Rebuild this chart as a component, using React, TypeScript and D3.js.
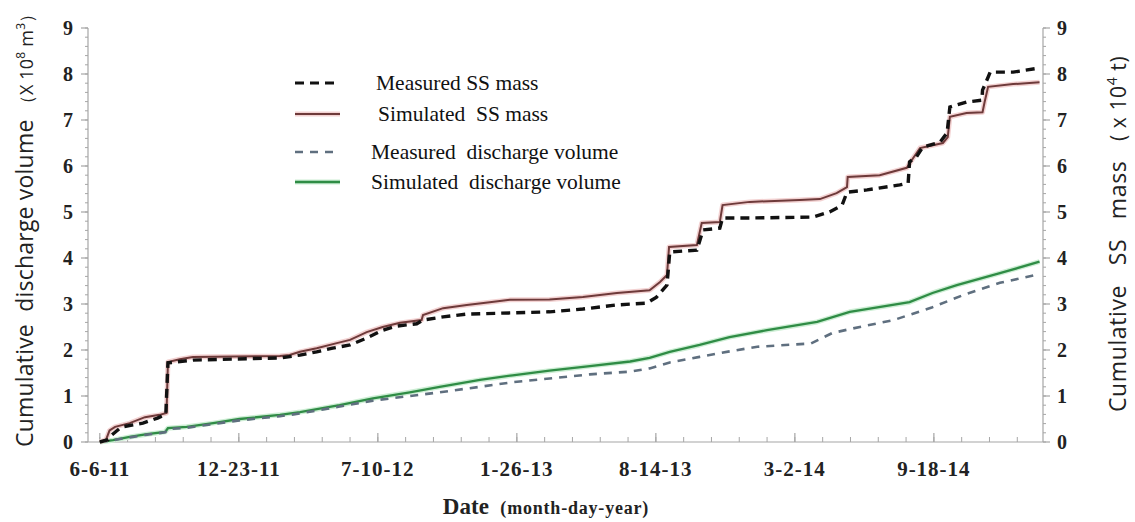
import React from 'react';
import * as d3 from 'd3';

// ---------- data ----------
const xTickDates = ['2011-06-06', '2011-12-23', '2012-07-10', '2013-01-26', '2013-08-14', '2014-03-02', '2014-09-18'];
const xTickLabels = ['6-6-11', '12-23-11', '7-10-12', '1-26-13', '8-14-13', '3-2-14', '9-18-14'];
const yTickValues = [0, 1, 2, 3, 4, 5, 6, 7, 8, 9];

const measuredSSMass: [string, number][] = [
  ['2011-06-06', 0], ['2011-06-18', 0.05], ['2011-06-23', 0.15], ['2011-07-05', 0.3], ['2011-07-09', 0.33],
  ['2011-08-07', 0.41], ['2011-08-28', 0.52], ['2011-09-09', 0.6], ['2011-09-12', 1.72], ['2011-10-18', 1.78],
  ['2012-02-23', 1.83], ['2012-03-20', 1.89], ['2012-04-13', 1.96], ['2012-05-06', 2.04], ['2012-05-31', 2.11],
  ['2012-06-24', 2.26], ['2012-07-17', 2.43], ['2012-08-06', 2.52], ['2012-09-04', 2.57], ['2012-09-13', 2.65],
  ['2012-10-12', 2.72], ['2012-11-15', 2.78], ['2013-01-02', 2.8], ['2013-03-14', 2.83], ['2013-05-01', 2.89],
  ['2013-06-19', 2.98], ['2013-08-01', 3.02], ['2013-08-15', 3.15], ['2013-08-30', 3.41], ['2013-09-03', 4.13],
  ['2013-10-12', 4.17], ['2013-10-21', 4.61], ['2013-11-14', 4.65], ['2013-11-18', 4.87], ['2013-12-27', 4.87],
  ['2014-03-28', 4.89], ['2014-04-21', 5.0], ['2014-05-09', 5.15], ['2014-05-16', 5.43], ['2014-06-14', 5.48],
  ['2014-07-31', 5.59], ['2014-08-12', 5.63], ['2014-08-14', 6.09], ['2014-08-24', 6.2], ['2014-09-02', 6.41],
  ['2014-09-27', 6.52], ['2014-10-07', 6.72], ['2014-10-11', 7.28], ['2014-11-04', 7.39], ['2014-11-26', 7.43],
  ['2014-11-27', 7.65], ['2014-12-05', 7.93], ['2014-12-08', 8.04], ['2015-01-10', 8.04], ['2015-02-17', 8.13],
];

const simulatedSSMass: [string, number][] = [
  ['2011-06-06', 0], ['2011-06-15', 0.05], ['2011-06-20', 0.25], ['2011-06-28', 0.33], ['2011-07-19', 0.41],
  ['2011-08-10', 0.54], ['2011-08-31', 0.59], ['2011-09-10', 0.63], ['2011-09-12', 1.74], ['2011-09-29', 1.8],
  ['2011-10-18', 1.85], ['2012-02-20', 1.87], ['2012-03-05', 1.89], ['2012-03-20', 1.96], ['2012-04-13', 2.04],
  ['2012-05-12', 2.15], ['2012-05-31', 2.22], ['2012-06-24', 2.39], ['2012-07-17', 2.5], ['2012-08-11', 2.59],
  ['2012-09-11', 2.65], ['2012-09-13', 2.76], ['2012-10-12', 2.91], ['2012-11-15', 2.98], ['2012-12-18', 3.04],
  ['2013-01-16', 3.09], ['2013-03-14', 3.1], ['2013-05-01', 3.15], ['2013-06-19', 3.24], ['2013-08-05', 3.3],
  ['2013-08-20', 3.48], ['2013-08-30', 3.63], ['2013-09-02', 4.24], ['2013-10-12', 4.28], ['2013-10-19', 4.76],
  ['2013-11-14', 4.78], ['2013-11-18', 5.15], ['2013-12-27', 5.22], ['2014-03-09', 5.26], ['2014-04-07', 5.28],
  ['2014-05-01', 5.41], ['2014-05-16', 5.54], ['2014-05-17', 5.76], ['2014-07-02', 5.8], ['2014-08-10', 5.96],
  ['2014-08-19', 6.17], ['2014-08-29', 6.39], ['2014-10-01', 6.5], ['2014-10-08', 6.63], ['2014-10-11', 7.07],
  ['2014-11-04', 7.15], ['2014-11-27', 7.17], ['2014-11-30', 7.39], ['2014-12-05', 7.72], ['2015-01-10', 7.78],
  ['2015-02-17', 7.82],
];

const measuredDischarge: [string, number][] = [
  ['2011-06-06', 0], ['2011-06-25', 0.04], ['2011-07-19', 0.1], ['2011-08-13', 0.16], ['2011-09-08', 0.21],
  ['2011-09-12', 0.28], ['2011-10-09', 0.31], ['2011-11-16', 0.39], ['2011-12-24', 0.47], ['2012-02-20', 0.56],
  ['2012-03-20', 0.62], ['2012-05-16', 0.77], ['2012-07-03', 0.9], ['2012-08-25', 1.0], ['2012-10-07', 1.08],
  ['2012-12-04', 1.2], ['2013-01-20', 1.3], ['2013-03-14', 1.38], ['2013-05-11', 1.47], ['2013-07-08', 1.53],
  ['2013-08-05', 1.6], ['2013-09-03', 1.73], ['2013-10-16', 1.85], ['2013-11-28', 1.97], ['2014-01-07', 2.07],
  ['2014-02-28', 2.12], ['2014-03-25', 2.14], ['2014-04-25', 2.37], ['2014-06-09', 2.52], ['2014-07-22', 2.65],
  ['2014-09-16', 2.93], ['2014-10-31', 3.2], ['2014-12-22', 3.46], ['2015-02-17', 3.65],
];

const simulatedDischarge: [string, number][] = [
  ['2011-06-06', 0], ['2011-06-25', 0.04], ['2011-07-19', 0.11], ['2011-08-13', 0.17], ['2011-09-08', 0.22],
  ['2011-09-12', 0.3], ['2011-10-09', 0.33], ['2011-11-16', 0.41], ['2011-12-24', 0.5], ['2012-02-20', 0.59],
  ['2012-03-20', 0.65], ['2012-05-16', 0.8], ['2012-07-03', 0.95], ['2012-08-25', 1.08], ['2012-10-07', 1.2],
  ['2012-12-04', 1.35], ['2013-01-20', 1.45], ['2013-03-14', 1.55], ['2013-05-11', 1.65], ['2013-07-08', 1.75],
  ['2013-08-05', 1.83], ['2013-09-03', 1.96], ['2013-10-16', 2.11], ['2013-11-28', 2.28], ['2014-01-21', 2.43],
  ['2014-04-03', 2.61], ['2014-05-20', 2.83], ['2014-08-14', 3.04], ['2014-09-16', 3.24], ['2014-10-21', 3.41],
  ['2014-12-22', 3.67], ['2015-02-17', 3.92],
];

const legendLabels = ['Measured SS mass', 'Simulated  SS mass', 'Measured  discharge volume', 'Simulated  discharge volume'];

// ---------- layout ----------
const W = 1135;
const H = 522;
const left = 88;
const right = 1043;
const top = 28;
const bottom = 442;

const parse = d3.utcParse('%Y-%m-%d');

export default function App() {
  const x = d3
    .scaleUtc()
    .domain([parse('2011-05-20')!, parse('2015-02-22')!])
    .range([left, right]);
  const y = d3.scaleLinear().domain([0, 9]).range([bottom, top]);

  const line = d3
    .line<[string, number]>()
    .x((d) => x(parse(d[0])!))
    .y((d) => y(d[1]));

  const start = parse(xTickDates[0])!;
  const minorX: Date[] = [];
  for (let k = 0; k <= 34; k++) {
    const dt = d3.utcDay.offset(start, k * 40);
    if (dt <= x.domain()[1]) minorX.push(dt);
  }
  const minorY: number[] = d3.range(0, 9.001, 0.2);

  const axisColor = '#a6a6a6';
  const serif = '"Liberation Serif", "Times New Roman", serif';
  const sans = '"Open Sans", "Noto Sans", sans-serif';

  const legendRows = [
    { y: 83, tx: 376, color: '#111', dash: '9,6', w: 3.2, halo: null as string | null },
    { y: 114, tx: 378, color: '#6e3a3a', dash: null as string | null, w: 2.2, halo: '#f3d2d2' },
    { y: 152, tx: 371, color: '#5f6f7f', dash: '8,7', w: 2.4, halo: null },
    { y: 182, tx: 371, color: '#2f8c45', dash: null, w: 2.4, halo: '#cdeed4' },
  ];

  const series = [
    { data: simulatedDischarge, color: '#2f8c45', w: 2.3, dash: null as string | null, halo: '#cdeed4' },
    { data: measuredDischarge, color: '#5f6f7f', w: 2.6, dash: '8,7', halo: null as string | null },
    { data: simulatedSSMass, color: '#6e3a3a', w: 2.0, dash: null, halo: '#f3d2d2' },
    { data: measuredSSMass, color: '#111', w: 3.4, dash: '9,6', halo: null },
  ];

  return (
    <svg width={W} height={H} style={{ display: 'block', position: 'absolute', left: 0, top: 0, background: '#fff' }}>
      <rect x={0} y={0} width={W} height={H} fill="#fff" />
      {/* axes */}
      <line x1={left} y1={top} x2={left} y2={bottom} stroke={axisColor} strokeWidth={1.2} />
      <line x1={right} y1={top} x2={right} y2={bottom} stroke={axisColor} strokeWidth={1.2} />
      <line x1={left} y1={bottom} x2={right} y2={bottom} stroke={axisColor} strokeWidth={1.2} />
      {minorY.map((v, i) => (
        <g key={'my' + i}>
          <line x1={left - 3} x2={left} y1={y(v)} y2={y(v)} stroke={axisColor} strokeWidth={1} />
          <line x1={right} x2={right + 3} y1={y(v)} y2={y(v)} stroke={axisColor} strokeWidth={1} />
        </g>
      ))}
      {yTickValues.map((v) => (
        <g key={'y' + v}>
          <line x1={left - 7} x2={left} y1={y(v)} y2={y(v)} stroke={axisColor} strokeWidth={1.2} />
          <line x1={right} x2={right + 7} y1={y(v)} y2={y(v)} stroke={axisColor} strokeWidth={1.2} />
          <text x={left - 20} y={y(v)} dy="0.35em" textAnchor="middle" fontFamily={serif} fontWeight="bold" fontSize={20} fill="#222">
            {v}
          </text>
          <text x={right + 19} y={y(v)} dy="0.35em" textAnchor="middle" fontFamily={serif} fontWeight="bold" fontSize={20} fill="#222">
            {v}
          </text>
        </g>
      ))}
      {minorX.map((d, i) => (
        <line key={'mx' + i} x1={x(d)} x2={x(d)} y1={bottom} y2={bottom - 5} stroke={axisColor} strokeWidth={1} />
      ))}
      {xTickDates.map((s, i) => (
        <g key={'x' + i}>
          <line x1={x(parse(s)!)} x2={x(parse(s)!)} y1={bottom} y2={bottom - 9} stroke={axisColor} strokeWidth={1.2} />
          <text
            x={x(parse(s)!)}
            y={476}
            textAnchor="middle"
            fontFamily={serif}
            fontWeight="bold"
            fontSize={21}
            letterSpacing={1}
            fill="#222"
          >
            {xTickLabels[i]}
          </text>
        </g>
      ))}

      {/* series */}
      {series.map((s, i) => (
        <g key={'s' + i}>
          {s.halo && <path d={line(s.data)!} fill="none" stroke={s.halo} strokeWidth={5} strokeLinejoin="round" />}
          <path
            d={line(s.data)!}
            fill="none"
            stroke={s.color}
            strokeWidth={s.w}
            strokeDasharray={s.dash ?? undefined}
            strokeLinejoin="miter"
          />
        </g>
      ))}

      {/* legend */}
      {legendRows.map((r, i) => (
        <g key={'l' + i}>
          {r.halo && <line x1={295} x2={340} y1={r.y} y2={r.y} stroke={r.halo} strokeWidth={5} />}
          <line x1={295} x2={340} y1={r.y} y2={r.y} stroke={r.color} strokeWidth={r.w} strokeDasharray={r.dash ?? undefined} />
          <text x={r.tx} y={r.y} dy="0.33em" fontFamily={serif} fontSize={21.5} fill="#111" style={{ whiteSpace: 'pre' }}>
            {legendLabels[i]}
          </text>
        </g>
      ))}

      {/* axis titles */}
      <text
        transform="translate(33,447) rotate(-90)"
        fontFamily={sans}
        fontSize={23}
        letterSpacing={0.2}
        fill="#222"
        style={{ whiteSpace: 'pre' }}
      >
        <tspan>{'Cumulative  discharge volume '}</tspan>
        <tspan fontSize={18}>{'\uFF08X 10'}</tspan>
        <tspan fontSize={12} dy={-8}>8</tspan>
        <tspan fontSize={18} dy={8}>{' m'}</tspan>
        <tspan fontSize={12} dy={-8}>3</tspan>
        <tspan fontSize={18} dy={8}>{'\uFF09'}</tspan>
      </text>
      <text
        transform="translate(1126,412) rotate(-90)"
        fontFamily={sans}
        fontSize={23}
        letterSpacing={0.6}
        fill="#222"
        style={{ whiteSpace: 'pre' }}
      >
        <tspan>{'Cumulative   SS   mass   '}</tspan>
        <tspan fontSize={21}>{'( x 10'}</tspan>
        <tspan fontSize={14} dy={-9}>4</tspan>
        <tspan fontSize={21} dy={9}>{' t)'}</tspan>
      </text>
      <text x={546} y={514} textAnchor="middle" fontFamily={serif} fontWeight="bold" fill="#222" style={{ whiteSpace: 'pre' }}>
        <tspan fontSize={23}>{'Date  '}</tspan>
        <tspan fontSize={18} letterSpacing={0.8}>(month-day-year)</tspan>
      </text>
    </svg>
  );
}
